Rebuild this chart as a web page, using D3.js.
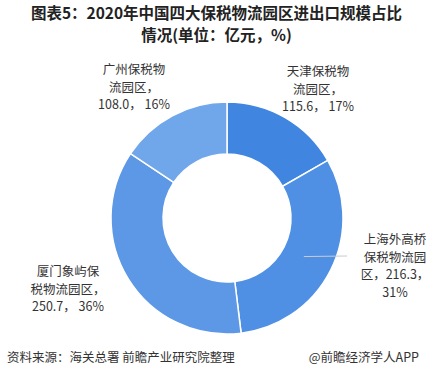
<!DOCTYPE html>
<html>
<head>
<meta charset="utf-8">
<script src="https://cdn.jsdelivr.net/npm/d3@7"></script>
<style>
  body { margin: 0; background: #fff; }
  svg { display: block; font-family: "Microsoft YaHei", "Noto Sans CJK SC", sans-serif; }
</style>
</head>
<body>
<script>
// data, clockwise from 12 o'clock
var parks = ["天津保税物流园区", "上海外高桥保税物流园区", "厦门象屿保税物流园区", "广州保税物流园区"];
var values = [115.6, 216.3, 250.7, 108.0];
var shares = ["17%", "31%", "36%", "16%"];
var colors = ["#4085e0", "#4f90e4", "#5c98e6", "#70a6ea"];
var titleLines = ["图表5：2020年中国四大保税物流园区进出口规模占比", "情况(单位：亿元，%)"];

// label lines as they wrap in the picture
var labelLines = [
  ["天津保税物", "流园区，", "115.6， 17%"],
  ["上海外高桥", "保税物流园", "区，216.3，", "31%"],
  ["厦门象屿保", "税物流园区，", "250.7， 36%"],
  ["广州保税物", "流园区，", "108.0， 16%"]
];
var labelPos = [[318, 76], [395, 244], [68, 276], [134, 74]];

var width = 433, height = 379,
    cx = 227, cy = 218,
    outerR = 116, innerR = 64;

var svg = d3.select("body").append("svg")
    .attr("width", width)
    .attr("height", height);

// title, two lines
svg.selectAll(".title")
    .data(titleLines)
    .enter().append("text")
    .attr("class", "title")
    .attr("text-anchor", "middle")
    .attr("x", width / 2)
    .attr("y", function(d, i) { return 19 + i * 22; })
    .style("font-size", "15.5px").style("font-weight", "bold").style("fill", "#222")
    .text(function(d) { return d; });

var pie = d3.pie().sort(null).value(function(d) { return d; });
var arc = d3.arc().innerRadius(innerR).outerRadius(outerR);

var g = svg.append("g").attr("transform", "translate(" + cx + "," + cy + ")");

var arcs = pie(values);

g.selectAll("path")
    .data(arcs)
    .enter().append("path")
    .attr("d", arc)
    .attr("fill", function(d, i) { return colors[i]; })
    .attr("stroke", "#fff")
    .attr("stroke-width", 1.5);

// leader line for the Shanghai slice
var p0 = d3.arc().innerRadius(outerR - 30).outerRadius(outerR - 30).centroid(arcs[1]);
svg.append("path")
    .attr("d", "M" + (cx + p0[0]) + "," + (cy + p0[1]) + "L" + 347 + "," + 256)
    .attr("fill", "none")
    .attr("stroke", "#c8ccd2")
    .attr("stroke-width", 1);

// labels
var labels = svg.selectAll(".lbl")
    .data(labelLines)
    .enter().append("text")
    .attr("class", "lbl")
    .attr("text-anchor", "middle")
    .style("font-size", "12.5px")
    .style("fill", "#333")
    .attr("transform", function(d, i) { return "translate(" + labelPos[i][0] + "," + labelPos[i][1] + ")"; });

labels.selectAll("tspan")
    .data(function(d) { return d; })
    .enter().append("tspan")
    .attr("x", 0)
    .attr("dy", function(d, i) { return i === 0 ? 0 : 17.5; })
    .text(function(d) { return d; });

// footer
svg.append("text")
    .attr("x", 7).attr("y", 362)
    .style("font-size", "12.5px").style("fill", "#333")
    .text("资料来源：海关总署 前瞻产业研究院整理");
svg.append("text")
    .attr("x", 419).attr("y", 362)
    .attr("text-anchor", "end")
    .style("font-size", "12.5px").style("fill", "#333")
    .text("@前瞻经济学人APP");
</script>
</body>
</html>
